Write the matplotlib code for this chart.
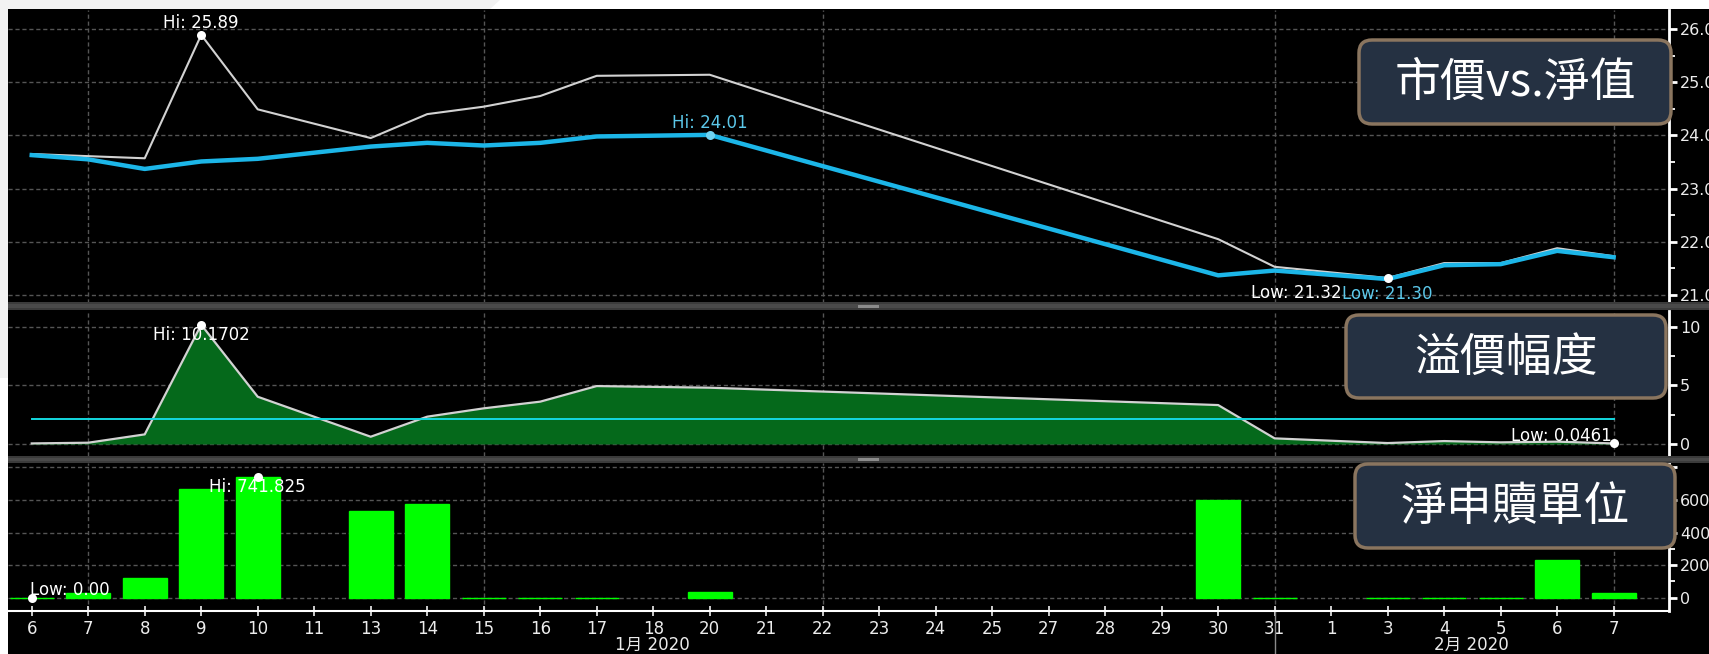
import matplotlib
matplotlib.use('Agg')
import matplotlib.pyplot as plt
import matplotlib.transforms as mtransforms
from matplotlib.patches import FancyBboxPatch, Rectangle, Polygon
import numpy as np

W, H, DPI = 1709, 654, 100

# ---------------- data ----------------
tick_dates = ['01-06', '01-07', '01-08', '01-09', '01-10', '01-11', '01-13', '01-14', '01-15',
              '01-16', '01-17', '01-18', '01-20', '01-21', '01-22', '01-23', '01-24', '01-25',
              '01-27', '01-28', '01-29', '01-30', '01-31', '02-01', '02-03', '02-04', '02-05',
              '02-06', '02-07']
tick_labels = ['6', '7', '8', '9', '10', '11', '13', '14', '15', '16', '17', '18', '20', '21',
               '22', '23', '24', '25', '27', '28', '29', '30', '31', '1', '3', '4', '5', '6', '7']
grid_dates = ['01-07', '01-15', '01-22', '01-31', '02-07']
month_labels = ['1月 2020', '2月 2020']
month_break = '01-31'

dates = ['01-06', '01-07', '01-08', '01-09', '01-10', '01-13', '01-14', '01-15', '01-16',
         '01-17', '01-20', '01-30', '01-31', '02-03', '02-04', '02-05', '02-06', '02-07']
price = [23.65, 23.61, 23.57, 25.89, 24.49, 23.95, 24.40, 24.54, 24.74,
         25.12, 25.14, 22.05, 21.53, 21.32, 21.60, 21.60, 21.88, 21.73]
nav = [23.63, 23.55, 23.37, 23.51, 23.56, 23.79, 23.86, 23.81, 23.86,
       23.98, 24.01, 21.37, 21.46, 21.30, 21.56, 21.58, 21.83, 21.71]
premium = [0.05, 0.11, 0.82, 10.1702, 4.03, 0.62, 2.33, 3.04, 3.61,
           4.94, 4.80, 3.32, 0.48, 0.08, 0.25, 0.14, 0.20, 0.0461]
units = [0.00, 30, 119, 668, 741.825, 533, 574, 0, 0,
         0, 37, 600, 0, 0, 0, 0, 232, 31]

box_titles = ['市價vs.淨值', '溢價幅度', '淨申贖單位']

# ---------------- helpers ----------------
xs = np.array([tick_dates.index(d) for d in dates])
tick_pos = np.arange(len(tick_dates))

CJK = ['Noto Sans CJK TC', 'DejaVu Sans']
NUM = ['DejaVu Sans', 'Noto Sans CJK TC']
plt.rcParams['font.family'] = NUM

fig = plt.figure(figsize=(W / DPI, H / DPI), dpi=DPI)
fig.patch.set_facecolor('white')
IDT = mtransforms.IdentityTransform()


def pxrect(x0, y0, x1, y1, **kw):
    """rectangle in image pixel coords (y from top)"""
    r = Rectangle((x0, H - y1), x1 - x0, y1 - y0, transform=IDT, **kw)
    fig.add_artist(r)
    return r


# background
fig.add_artist(Polygon([(0, H), (500, H), (490, H - 9), (8, H - 9), (8, H - 378), (0, H - 378)],
                       closed=True, transform=IDT, fc='#f2f2f2', ec='none', zorder=-20))
pxrect(8, 9, W, H, fc='black', ec='none', zorder=-10)

L, R = 8, 1669
panels = [(10, 303), (311, 456), (463, 611)]
axes = []
for (t, b) in panels:
    ax = fig.add_axes([L / W, 1 - b / H, (R - L) / W, (b - t) / H])
    ax.set_facecolor('none')
    ax.set_xlim(-0.42, 28.98)
    for s in ['left', 'top', 'bottom']:
        ax.spines[s].set_visible(False)
    ax.spines['right'].set_color('white')
    ax.spines['right'].set_linewidth(2)
    ax.yaxis.tick_right()
    ax.tick_params(axis='y', which='major', direction='out', length=6, width=2,
                   colors='white', labelcolor='#ececec', labelsize=11.5, pad=2)
    ax.tick_params(axis='y', which='minor', direction='out', length=4, width=1.3, colors='white')
    ax.set_xticks(tick_pos)
    ax.tick_params(axis='x', which='both', length=0, labelbottom=False)
    ax.yaxis.grid(True, which='major', color='#555555', linestyle=(0, (3, 2)), linewidth=1)
    for gd in grid_dates:
        ax.axvline(tick_dates.index(gd), color='#555555', linestyle=(0, (3, 2)), linewidth=1, zorder=0)
    ax.set_axisbelow(True)
    axes.append(ax)
ax1, ax2, ax3 = axes

CYAN_LINE = '#1cb6e8'
CYAN_TXT = '#5cc8ea'
GRAYLINE = '#d2d2d2'
ANN = 12


def mark(ax, x, y, text, color, dx, dy, ha, mcolor='white'):
    ax.plot([x], [y], 'o', color=mcolor, ms=6.5, mec='none', zorder=8, clip_on=False)
    ax.annotate(text, (x, y), xytext=(dx, dy), textcoords='offset pixels', ha=ha, va='center',
                color=color, fontsize=ANN, zorder=9, annotation_clip=False)


# ---- top panel ----
ax1.set_ylim(20.85, 26.357)
ax1.set_yticks([21, 22, 23, 24, 25, 26])
ax1.set_yticks(np.arange(21.5, 26, 1.0), minor=True)
ax1.set_yticklabels(['%.2f' % v for v in [21, 22, 23, 24, 25, 26]])
ax1.plot(xs, price, color=GRAYLINE, lw=1.5, zorder=3)
ax1.plot(xs, nav, color=CYAN_LINE, lw=3.2, zorder=4, solid_joinstyle='round')
ip = int(np.argmax(price))
mark(ax1, xs[ip], price[ip], 'Hi: %.2f' % price[ip], 'white', 0, 12, 'center')
inn = int(np.argmax(nav))
mark(ax1, xs[inn], nav[inn], 'Hi: %.2f' % nav[inn], CYAN_TXT, 0, 12, 'center', mcolor='#6fd3f2')
il = int(np.argmin(price))
jl = int(np.argmin(nav))
mark(ax1, xs[il], price[il], 'Low: %.2f' % price[il], 'white', -46, -15, 'right')
ax1.annotate('Low: %.2f' % nav[jl], (xs[jl], nav[jl]), xytext=(0, -15), textcoords='offset pixels',
             ha='center', va='center', color=CYAN_TXT, fontsize=ANN, zorder=9, annotation_clip=False)

# ---- middle panel ----
ax2.set_ylim(-1.023, 11.34)
ax2.set_yticks([0, 5, 10])
ax2.set_yticks([2.5, 7.5], minor=True)
ax2.set_yticklabels(['0', '5', '10'])
ax2.fill_between(xs, premium, 0, color='#05691b', lw=0, zorder=2)
ax2.plot(xs, premium, color=GRAYLINE, lw=1.6, zorder=3)
ax2.plot([xs[0], xs[-1]], [np.mean(premium)] * 2, color='#14d8e0', lw=1.4, zorder=4)
ih = int(np.argmax(premium))
mark(ax2, xs[ih], premium[ih], 'Hi: %.4f' % premium[ih], 'white', 0, -10, 'center')
ilo = int(np.argmin(premium))
mark(ax2, xs[ilo], premium[ilo], 'Low: %.4f' % premium[ilo], 'white', -2, 7, 'right')

# ---- bottom panel ----
ax3.set_ylim(-81.7, 827.4)
ax3.set_yticks([0, 200, 400, 600, 800])
ax3.set_yticks([100, 300, 500, 700], minor=True)
ax3.set_yticklabels(['0', '200', '400', '600', ''])
ax3.bar(xs, units, width=0.78, color='#00ff00', edgecolor='#00ff00', linewidth=1, zorder=3)
iu = int(np.argmax(units))
mark(ax3, xs[iu], units[iu], 'Hi: %.3f' % units[iu], 'white', 0, -10, 'center')
iul = int(np.argmin(units))
mark(ax3, xs[iul], units[iul], 'Low: %.2f' % units[iul], 'white', -2, 8, 'left')

ax3.spines['bottom'].set_visible(True)
ax3.spines['bottom'].set_color('white')
ax3.spines['bottom'].set_linewidth(1.5)
ax3.set_xticks(tick_pos)
ax3.set_xticklabels(tick_labels)
ax3.tick_params(axis='x', which='major', direction='inout', length=7, width=1.3, colors='#dddddd',
                labelcolor='#ececec', labelsize=12, pad=3, labelbottom=True)
blend = mtransforms.blended_transform_factory(ax3.transData, ax3.transAxes)
mb = tick_dates.index(month_break)
ax3.plot([mb, mb], [0, -0.32], transform=blend, color='#8a8a8a', lw=1, clip_on=False)
ax3.text((ax3.get_xlim()[0] + mb) / 2 + 0.2, -0.23, month_labels[0], transform=blend, ha='center',
         va='center', color='#ececec', fontsize=12, family=NUM)
ax3.text((ax3.get_xlim()[1] + mb) / 2, -0.23, month_labels[1], transform=blend, ha='center',
         va='center', color='#ececec', fontsize=12, family=NUM)

# ---- separators ----
for (y0, y1) in [(302, 310), (456, 463)]:
    pxrect(8, y0, W, y1, fc='#3b3b3b', ec='none', zorder=5)
    pxrect(8, y0 + 2, W, y1 - 2, fc='#4a4a4a', ec='none', zorder=5)
    cy = (y0 + y1) / 2
    pxrect(858, cy - 1.5, 879, cy + 1.5, fc='#8c8c8c', ec='none', zorder=6)

# ---- title boxes ----
boxes = [(1359, 40, 1671, 124), (1346, 315, 1666, 398), (1355, 464, 1675, 548)]
for (x0, y0, x1, y1), title in zip(boxes, box_titles):
    p = FancyBboxPatch((x0, H - y1), x1 - x0, y1 - y0, boxstyle='round,pad=0,rounding_size=13',
                       transform=IDT, fc='#253142', ec='#8a755f', lw=2.5, zorder=10)
    fig.add_artist(p)
    fig.text((x0 + x1) / 2 / W, 1 - ((y0 + y1) / 2 + 1) / H, title, ha='center', va='center',
             color='white', fontsize=33, fontweight='light', family=CJK, zorder=11)

fig.savefig('out.png', dpi=DPI, facecolor=fig.get_facecolor())
